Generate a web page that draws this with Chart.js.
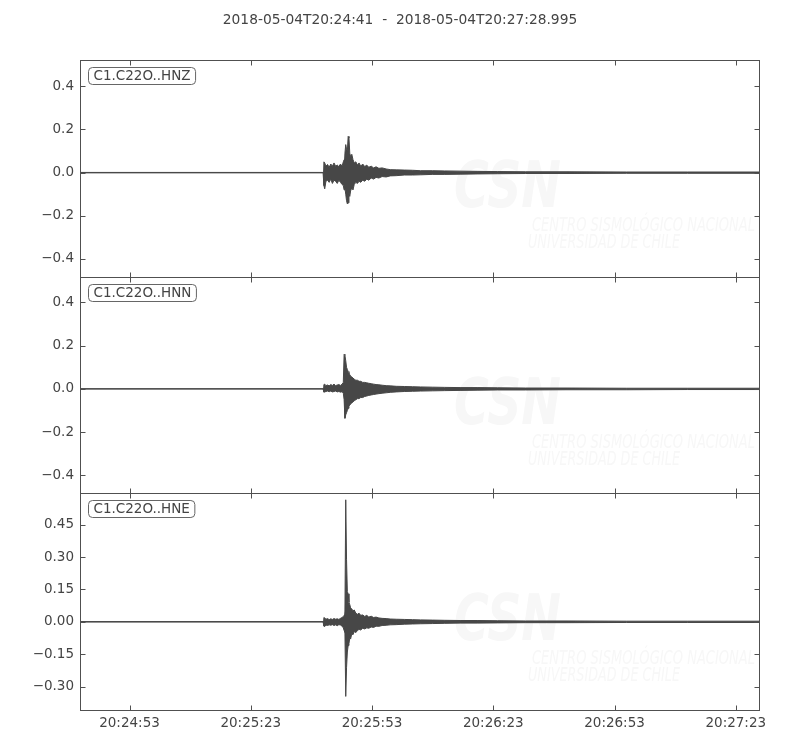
<!DOCTYPE html>
<html>
<head>
<meta charset="utf-8">
<title>C1.C22O waveform</title>
<script src="https://cdn.jsdelivr.net/npm/chart.js@4.4.1/dist/chart.umd.min.js"></script>
<style>
  html, body { margin: 0; padding: 0; background: #ffffff; }
  #wrap { width: 800px; height: 750px; }
</style>
</head>
<body>
<div id="wrap"><canvas id="chart" width="800" height="750"></canvas></div>
<script>
// seconds after 2018-05-04T20:24:41
const timeSec = [0, 59.9, 60.1, 60.3, 60.6, 61.0, 61.4, 61.8, 62.2, 62.6, 63.0, 63.4, 63.8, 64.2, 64.6, 64.9,
  65.1, 65.3, 65.5, 65.7, 65.9, 66.1, 66.3, 66.5, 66.7, 67.0, 67.3, 67.6, 68.0, 68.4, 68.8, 69.2, 69.7,
  70.2, 70.7, 71.2, 71.8, 72.4, 73.0, 73.7, 74.5, 75.5, 76.5, 78, 80, 82, 84, 87, 90, 94, 98, 103, 110,
  120, 135, 150, 167.995];

// envelope (max / min per time step)
const hnzUpper = [0.001, 0.001, 0.05, 0.045, 0.03, 0.038, 0.025, 0.04, 0.03, 0.045, 0.03, 0.035, 0.028, 0.04, 0.03, 0.05,
  0.06, 0.09, 0.13, 0.11, 0.10, 0.168, 0.16, 0.09, 0.075, 0.085, 0.06, 0.045, 0.05, 0.035, 0.045, 0.03, 0.04,
  0.028, 0.035, 0.025, 0.03, 0.022, 0.027, 0.02, 0.022, 0.017, 0.014, 0.013, 0.012, 0.011, 0.009, 0.009, 0.008, 0.007, 0.006, 0.005, 0.004,
  0.004, 0.003, 0.003, 0.003];
const hnzLower = [-0.001, -0.001, -0.06, -0.075, -0.04, -0.035, -0.045, -0.03, -0.05, -0.035, -0.04, -0.05, -0.035, -0.045, -0.055, -0.06,
  -0.08, -0.07, -0.10, -0.13, -0.145, -0.14, -0.09, -0.11, -0.085, -0.07, -0.08, -0.055, -0.045, -0.05, -0.04, -0.045, -0.035,
  -0.04, -0.03, -0.035, -0.025, -0.03, -0.022, -0.025, -0.018, -0.02, -0.015, -0.014, -0.011, -0.011, -0.01, -0.008, -0.008, -0.007, -0.006, -0.005, -0.004,
  -0.004, -0.003, -0.003, -0.003];

const hnnUpper = [0.001, 0.001, 0.02, 0.022, 0.015, 0.018, 0.014, 0.02, 0.016, 0.022, 0.015, 0.018, 0.02, 0.016, 0.022, 0.03,
  0.16, 0.155, 0.13, 0.10, 0.09, 0.08, 0.075, 0.065, 0.06, 0.055, 0.05, 0.045, 0.04, 0.04, 0.035, 0.035, 0.03,
  0.03, 0.028, 0.026, 0.024, 0.022, 0.02, 0.019, 0.017, 0.015, 0.014, 0.012, 0.011, 0.01, 0.009, 0.008, 0.007, 0.006, 0.006, 0.005, 0.004,
  0.004, 0.003, 0.003, 0.003];
const hnnLower = [-0.001, -0.001, -0.015, -0.014, -0.012, -0.01, -0.013, -0.01, -0.014, -0.012, -0.01, -0.014, -0.012, -0.015, -0.013, -0.02,
  -0.05, -0.136, -0.12, -0.11, -0.10, -0.09, -0.08, -0.075, -0.07, -0.065, -0.06, -0.055, -0.05, -0.045, -0.045, -0.04, -0.04,
  -0.035, -0.033, -0.03, -0.028, -0.026, -0.024, -0.022, -0.02, -0.018, -0.016, -0.014, -0.012, -0.011, -0.01, -0.009, -0.008, -0.007, -0.006, -0.005, -0.005,
  -0.004, -0.004, -0.003, -0.003];

const hneUpper = [0.001, 0.001, 0.02, 0.018, 0.012, 0.015, 0.01, 0.014, 0.011, 0.015, 0.012, 0.014, 0.011, 0.016, 0.02, 0.025,
  0.03, 0.05, 0.566, 0.288, 0.14, 0.13, 0.09, 0.08, 0.065, 0.06, 0.05, 0.055, 0.04, 0.035, 0.04, 0.03, 0.032,
  0.025, 0.03, 0.022, 0.026, 0.02, 0.022, 0.018, 0.016, 0.015, 0.013, 0.012, 0.011, 0.01, 0.009, 0.008, 0.007, 0.006, 0.006, 0.005, 0.004,
  0.004, 0.003, 0.003, 0.003];
const hneLower = [-0.001, -0.001, -0.02, -0.022, -0.015, -0.017, -0.014, -0.016, -0.013, -0.017, -0.014, -0.018, -0.013, -0.015, -0.02, -0.028,
  -0.04, -0.05, -0.346, -0.213, -0.14, -0.11, -0.10, -0.075, -0.08, -0.055, -0.06, -0.045, -0.05, -0.04, -0.035, -0.038, -0.03,
  -0.033, -0.028, -0.03, -0.024, -0.026, -0.02, -0.021, -0.017, -0.016, -0.014, -0.013, -0.011, -0.01, -0.009, -0.008, -0.007, -0.006, -0.006, -0.005, -0.004,
  -0.004, -0.003, -0.003, -0.003];

const channelNames = ['C1.C22O..HNZ', 'C1.C22O..HNN', 'C1.C22O..HNE'];

const xTickSec = [12, 42, 72, 102, 132, 162];
const xTickLabels = ['20:24:53', '20:25:23', '20:25:53', '20:26:23', '20:26:53', '20:27:23'];

const hnzTicks = [-0.4, -0.2, 0, 0.2, 0.4];
const hnzTickLabels = ['\u22120.4', '\u22120.2', '0.0', '0.2', '0.4'];
const hnnTicks = [-0.4, -0.2, 0, 0.2, 0.4];
const hnnTickLabels = ['\u22120.4', '\u22120.2', '0.0', '0.2', '0.4'];
const hneTicks = [-0.30, -0.15, 0, 0.15, 0.30, 0.45];
const hneTickLabels = ['\u22120.30', '\u22120.15', '0.00', '0.15', '0.30', '0.45'];

const yMin = [-0.482, -0.483, -0.409];
const yMax = [0.522, 0.519, 0.596];

const titleText = '2018-05-04T20:24:41  -  2018-05-04T20:27:28.995';

const TRACE = '#474747';
const AXIS = '#505050';
const TEXT = '#444444';
const FONT = '"DejaVu Sans", sans-serif';

const panels = [
  { id: 'yHNZ', name: channelNames[0], upper: hnzUpper, lower: hnzLower, ticks: hnzTicks, labels: hnzTickLabels, min: yMin[0], max: yMax[0], weight: 3 },
  { id: 'yHNN', name: channelNames[1], upper: hnnUpper, lower: hnnLower, ticks: hnnTicks, labels: hnnTickLabels, min: yMin[1], max: yMax[1], weight: 2 },
  { id: 'yHNE', name: channelNames[2], upper: hneUpper, lower: hneLower, ticks: hneTicks, labels: hneTickLabels, min: yMin[2], max: yMax[2], weight: 1 }
];

const datasets = [];
const scales = {
  x: {
    type: 'linear',
    position: 'bottom',
    min: 0,
    max: timeSec[timeSec.length - 1],
    grid: { display: false, drawTicks: false },
    border: { display: false },
    afterBuildTicks: s => { s.ticks = xTickSec.map(v => ({ value: v })); },
    afterFit: s => { s.height = 40; },
    ticks: {
      color: TEXT,
      font: { family: FONT, size: 13.5 },
      padding: 5,
      maxRotation: 0,
      autoSkip: false,
      callback: (v, i) => xTickLabels[i]
    }
  }
};

panels.forEach(p => {
  datasets.push({
    label: p.name + ' max',
    yAxisID: p.id,
    data: timeSec.map((t, i) => ({ x: t, y: p.upper[i] })),
    borderColor: TRACE,
    borderWidth: 1,
    pointRadius: 0,
    tension: 0,
    fill: false
  });
  datasets.push({
    label: p.name + ' min',
    yAxisID: p.id,
    data: timeSec.map((t, i) => ({ x: t, y: p.lower[i] })),
    borderColor: TRACE,
    backgroundColor: TRACE,
    borderWidth: 1,
    pointRadius: 0,
    tension: 0,
    fill: '-1'
  });
  scales[p.id] = {
    type: 'linear',
    position: 'left',
    stack: 'traces',
    stackWeight: 1,
    weight: p.weight,
    min: p.min,
    max: p.max,
    grid: { display: false, drawTicks: false },
    border: { display: false },
    afterBuildTicks: s => { s.ticks = p.ticks.map(v => ({ value: v })); },
    afterFit: s => { s.width = 81; },
    ticks: {
      color: TEXT,
      font: { family: FONT, size: 13.5 },
      padding: 7,
      autoSkip: false,
      callback: (v, i) => p.labels[i]
    }
  };
});

// draws text squeezed to a given width
function fitText(ctx, text, x, y, width) {
  const w = ctx.measureText(text).width;
  ctx.save();
  ctx.translate(x, y);
  ctx.scale(width / w, 1);
  ctx.fillText(text, 0, 0);
  ctx.restore();
}

// faint CSN logo behind each trace
const watermark = {
  id: 'watermark',
  beforeDatasetsDraw(chart) {
    const ctx = chart.ctx;
    const left = chart.scales.x.left;
    ctx.save();
    ctx.fillStyle = '#f7f7f7';
    ctx.textBaseline = 'alphabetic';
    panels.forEach(p => {
      const s = chart.scales[p.id];
      ctx.font = 'italic bold 64px "DejaVu Sans", sans-serif';
      fitText(ctx, 'CSN', left + 373, s.top + 147, 107);
      ctx.font = 'italic 20px "DejaVu Sans", sans-serif';
      fitText(ctx, 'CENTRO SISMOLÓGICO NACIONAL', left + 451, s.top + 171, 223);
      fitText(ctx, 'UNIVERSIDAD DE CHILE', left + 447, s.top + 188, 152);
    });
    ctx.restore();
  }
};

// matplotlib style frame: spines, inward ticks, channel label box, title
const frame = {
  id: 'frame',
  afterDatasetsDraw(chart) {
    const ctx = chart.ctx;
    const xs = chart.scales.x;
    const l = Math.round(xs.left) - 0.5;
    const r = Math.round(xs.right) - 0.5;
    ctx.save();
    ctx.lineWidth = 1;
    panels.forEach(p => {
      const s = chart.scales[p.id];
      const t = Math.round(s.top) + 0.5;
      const b = Math.round(s.bottom) + 0.5;
      ctx.strokeStyle = AXIS;
      ctx.strokeRect(l, t, r - l, b - t);
      ctx.beginPath();
      s.ticks.forEach(tk => {
        const y = Math.round(s.getPixelForValue(tk.value)) + 0.5;
        ctx.moveTo(l, y); ctx.lineTo(l + 5, y);
        ctx.moveTo(r, y); ctx.lineTo(r - 5, y);
      });
      xs.ticks.forEach(tk => {
        const x = Math.round(xs.getPixelForValue(tk.value)) + 0.5;
        ctx.moveTo(x, t); ctx.lineTo(x, t + 5);
        ctx.moveTo(x, b); ctx.lineTo(x, b - 5);
      });
      ctx.stroke();

      ctx.font = '13.5px ' + FONT;
      const w = ctx.measureText(p.name).width + 10;
      const bx = l + 8, by = t + 7, bh = 17;
      ctx.beginPath();
      ctx.roundRect(bx, by, w, bh, 4);
      ctx.fillStyle = '#ffffff';
      ctx.fill();
      ctx.strokeStyle = '#666666';
      ctx.stroke();
      ctx.fillStyle = TEXT;
      ctx.textBaseline = 'middle';
      ctx.fillText(p.name, bx + 5, by + bh / 2 + 0.5);
    });

    ctx.font = '13.8px ' + FONT;
    ctx.fillStyle = TEXT;
    ctx.textAlign = 'center';
    ctx.textBaseline = 'middle';
    ctx.fillText(titleText, chart.width / 2, 20);
    ctx.restore();
  }
};

new Chart(document.getElementById('chart'), {
  type: 'line',
  data: { datasets },
  options: {
    responsive: false,
    animation: false,
    events: [],
    layout: { padding: { left: 0, right: 40, top: 60, bottom: 0 } },
    plugins: {
      legend: { display: false },
      tooltip: { enabled: false },
      title: { display: false }
    },
    scales
  },
  plugins: [watermark, frame]
});
</script>
</body>
</html>
